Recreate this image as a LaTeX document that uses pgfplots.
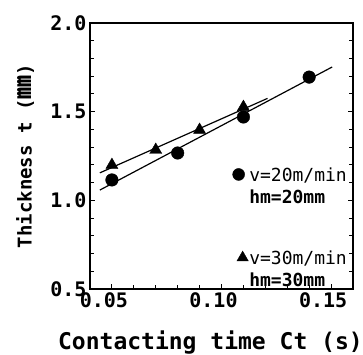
\documentclass[border=0pt]{standalone}
\usepackage{pgfplots}
\pgfplotsset{compat=1.18}
\usepackage{fontspec}
\setmainfont{DejaVu Sans Mono}
\newfontfamily\cjk{Noto Sans CJK JP}
\begin{document}
\begin{tikzpicture}
\begin{axis}[
  name=ax, at={(0,0)}, anchor=south west,
  scale only axis, width=263pt, height=266pt,
  xmin=0.04, xmax=0.16, ymin=0.5, ymax=2.0,
  xtick={0.05,0.10,0.15},
  minor xtick={0.06,0.07,0.08,0.09,0.11,0.12,0.13,0.14},
  ytick={0.5,1.0,1.5,2.0},
  minor ytick={0.6,0.7,0.8,0.9,1.1,1.2,1.3,1.4,1.6,1.7,1.8,1.9},
  xtick pos=left, ytick pos=both,
  tick align=inside,
  major tick length=5pt, minor tick length=4pt,
  axis line style={line width=1.6pt},
  every tick/.style={line width=0.9pt, black},
  /pgf/number format/assume math mode=true,
  ticklabel style={font=\bfseries\fontsize{20}{22}\selectfont},
  xticklabel style={xshift=-8pt, /pgf/number format/.cd, fixed, fixed zerofill, precision=2},
  yticklabel style={/pgf/number format/.cd, fixed, fixed zerofill, precision=1},
  xlabel={Contacting time Ct (s)},
  ylabel={Thickness t ({\cjk\fontsize{24}{24}\selectfont ㎜})},
  xlabel style={font=\bfseries\fontsize{23}{25}\selectfont, at={(axis description cs:0.458,-0.229)}, anchor=base},
  ylabel style={font=\bfseries\fontsize{19}{21}\selectfont, at={(axis description cs:-0.247,0.5)}, anchor=center},
  legend style={draw=none, fill=none, at={(axis description cs:1,0.46)}, xshift=-5pt, anchor=north east, font=\fontsize{18}{22}\selectfont, row sep=44pt, inner sep=0pt, nodes={inner sep=1pt}, cells={align=left}},
  legend cell align=left,
]
\addplot[black, line width=1.2pt, forget plot] coordinates {(0.0445,1.058) (0.1505,1.752)};
\addplot[black, line width=1.2pt, forget plot] coordinates {(0.0445,1.155) (0.121,1.575)};
\addplot[only marks, mark=*, mark size=6.3pt, black, forget plot] coordinates {
  (0.05,1.115) (0.08,1.267) (0.11,1.470) (0.14,1.695)};
\addplot[only marks, mark=triangle*, mark size=7pt, black, forget plot] coordinates {
  (0.05,1.199) (0.07,1.284) (0.09,1.397) (0.11,1.526)};
\addlegendimage{only marks, mark=*, mark size=6pt, black, yshift=12pt, xshift=-3pt}
\addlegendentry{v=20m/min\\\textbf{hm=20mm}}
\addlegendimage{only marks, mark=triangle*, mark size=6.5pt, black, yshift=12pt, xshift=1pt}
\addlegendentry{v=30m/min\\\textbf{hm=30mm}}
\end{axis}
\pgfresetboundingbox
\path (-90pt,-65pt) rectangle (273pt,289pt);
\end{tikzpicture}
\end{document}
